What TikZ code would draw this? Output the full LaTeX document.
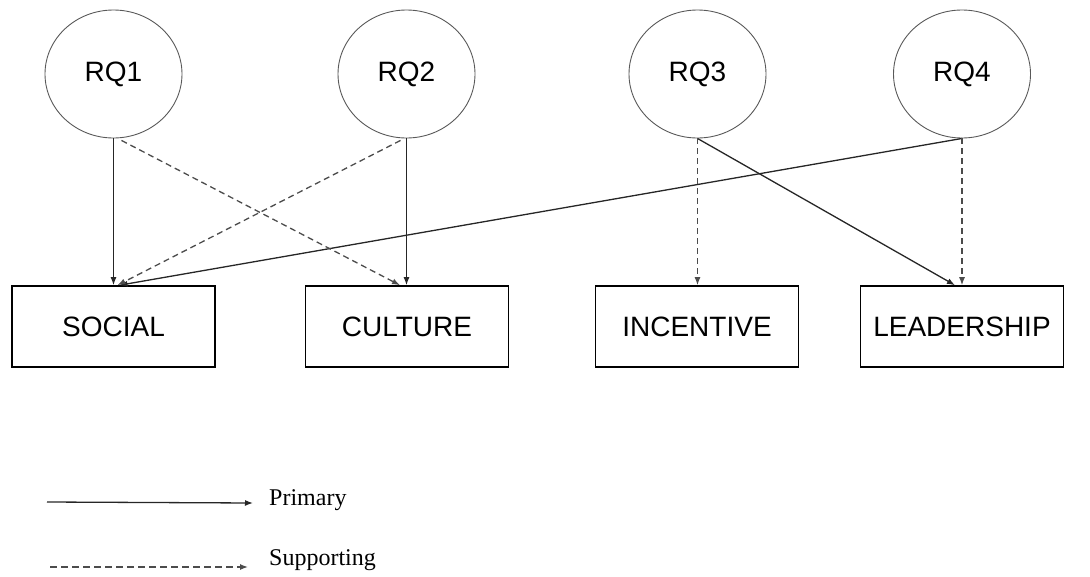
\documentclass[tikz,border=0pt]{standalone}
\usepackage{fontspec}
\setmainfont{Liberation Sans}
\newfontfamily\legendfont{Liberation Serif}
\usetikzlibrary{arrows.meta,calc,shapes.geometric}
\begin{document}
\begin{tikzpicture}[x=1pt,y=-1pt,
  rq/.style={ellipse,draw=black!65,line width=0.9pt,minimum width=137pt,minimum height=128pt,inner sep=0pt,font=\fontsize{28}{30}\selectfont},
  factor/.style={rectangle,draw=black,line width=1.6pt,minimum width=203pt,minimum height=81pt,inner sep=0pt,font=\fontsize{28}{30}\selectfont},
  primary/.style={draw=black!85,line width=1.3pt,-{Latex[length=8pt,width=6pt]}},
  supporting/.style={draw=black!70,line width=1.3pt,dash pattern=on 6pt off 4pt,-{Latex[length=8pt,width=6pt]}},
  legtext/.style={anchor=west,inner sep=0pt,font=\legendfont\fontsize{24}{26}\selectfont}]
\useasboundingbox (0,0) rectangle (1090,576);

% research questions
\node[rq] (rq1) at (113.5,74) {RQ1};
\node[rq] (rq2) at (406.5,74) {RQ2};
\node[rq] (rq3) at (697.5,74) {RQ3};
\node[rq] (rq4) at (962,74) {RQ4};

% factors
\node[factor] (social)     at (113.5,326.5) {SOCIAL};
\node[factor] (culture)    at (407,326.5)   {CULTURE};
\node[factor] (incentive)  at (697,326.5)   {INCENTIVE};
\node[factor] (leadership) at (962,326.5)   {LEADERSHIP};

% primary links
\draw[primary] (rq1.south) -- (social.north);
\draw[primary] (rq2.south) -- (culture.north -| rq2.south);
\draw[primary] (rq4.south) -- ($(social.north)+(6,0)$);
\draw[primary] (rq3.south) -- ($(leadership.north)+(-7,0)$);

% supporting links
\draw[supporting] ($(rq1.south)+(8,2)$) -- ($(culture.north)+(-7,0)$);
\draw[supporting] ($(rq2.south)+(-6,2)$) -- ($(social.north)+(4,0)$);
\draw[supporting] (rq3.south) -- (incentive.north -| rq3.south);
\draw[supporting] (rq4.south) -- (leadership.north -| rq4.south);

% legend
\coordinate (pa) at (47,502);
\coordinate (pb) at (253,503);
\coordinate (sa) at (50,567);
\coordinate (sb) at (248,567);
\draw[primary] (pa) -- (pb);
\draw[supporting,dash pattern=on 7pt off 4pt] (sa) -- (sb);
\node[legtext] (lp) at (269,500) {Primary};
\node[legtext] (ls) at (269,560) {Supporting};
\end{tikzpicture}
\end{document}
